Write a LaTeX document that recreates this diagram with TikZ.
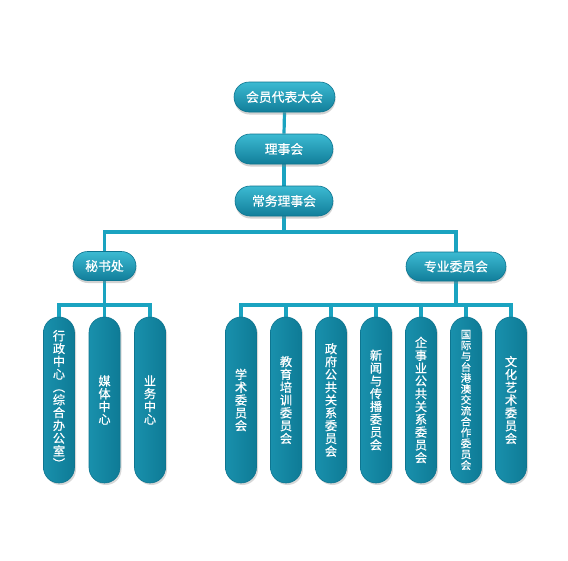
\documentclass[tikz,border=0pt]{standalone}
\usepackage{fontspec}
\usepackage{graphicx}
\setmainfont{Noto Sans CJK SC}[FakeBold=0.6,BoldFont={Noto Sans CJK SC}]
\usetikzlibrary{shadows,shapes.misc,backgrounds}
\definecolor{linec}{HTML}{1AA3C0}
\definecolor{boxtop}{HTML}{3CBAD2}
\definecolor{boxbot}{HTML}{117E9A}
\definecolor{boxedge}{HTML}{0E7590}
\definecolor{colL}{HTML}{1990AC}
\definecolor{colM}{HTML}{2EB3CD}
\definecolor{colR}{HTML}{0E7B96}
\newcommand{\vparen}[1]{\rotatebox[origin=c]{-90}{#1}}
\tikzset{
  hbox/.style={rounded rectangle, minimum width=98pt, minimum height=30pt, inner sep=0pt,
    top color=boxtop, bottom color=boxbot, draw=boxedge, line width=0.6pt, text=white,
    font=\fontsize{12.8}{14}\selectfont\bfseries,
    drop shadow={shadow xshift=0.5pt, shadow yshift=-2.5pt, opacity=0.35}},
  vbox/.style={rectangle, rounded corners=15.5pt, minimum width=31pt, minimum height=166pt,
    inner sep=0pt, left color=colL, middle color=colM, right color=colR, draw=boxedge,
    line width=0.6pt, text=white, align=center,
    font=\fontsize{12.2}{12.8}\selectfont\bfseries,
    drop shadow={shadow xshift=1.5pt, shadow yshift=-2pt, opacity=0.3}},
  conn/.style={draw=linec, line width=3.2pt}
}
\begin{document}
\begin{tikzpicture}[x=1pt,y=-1pt]
\useasboundingbox (0,0) rectangle (568,560);
% top chain
\node[hbox, minimum width=101pt] (hy) at (284.5,97) {会员代表大会};
\node[hbox] (lsh) at (284,149) {理事会};
\node[hbox] (cw) at (284,201) {常务理事会};
\node[hbox, minimum width=63pt, minimum height=29pt] (msc) at (104.5,266) {秘书处};
\node[hbox, minimum width=100pt, minimum height=29pt] (zy) at (456,266.5) {专业委员会};
% left columns
\node[vbox] (a1) at (59,400) {行\\政\\中\\心\\\vparen{（}\\综\\合\\办\\公\\室\\\vparen{）}};
\node[vbox] (a2) at (104.5,400) {媒\\体\\中\\心};
\node[vbox] (a3) at (150,400) {业\\务\\中\\心};
% right columns
\node[vbox] (b1) at (241,400) {学\\术\\委\\员\\会};
\node[vbox] (b2) at (286,400) {教\\育\\培\\训\\委\\员\\会};
\node[vbox] (b3) at (331,400) {政\\府\\公\\共\\关\\系\\委\\员\\会};
\node[vbox] (b4) at (376,400) {新\\闻\\与\\传\\播\\委\\员\\会};
\node[vbox] (b5) at (421,400) {企\\事\\业\\公\\共\\关\\系\\委\\员\\会};
\node[vbox, font=\fontsize{10.6}{10.9}\selectfont\bfseries] (b6) at (466,400) {国\\际\\与\\台\\港\\澳\\交\\流\\合\\作\\委\\员\\会};
\node[vbox] (b7) at (511,400) {文\\化\\艺\\术\\委\\员\\会};
% junctions
\coordinate (j1) at (284,232);
\coordinate (j2) at (104.5,305);
\coordinate (j3) at (456,305);
\begin{pgfonlayer}{background}
\fill[white] (0,0) rectangle (568,560);
\draw[conn] (hy.south) -- (lsh.north);
\draw[conn] (lsh.south) -- (cw.north);
\draw[conn] (cw.south) -- (j1);
\draw[conn] (msc.north) |- (j1) -| (zy.north);
\draw[conn] (msc.south) -- (a2.north);
\draw[conn] (a1.north) |- (j2) -| (a3.north);
\draw[conn] (zy.south) -- (j3);
\draw[conn] (b1.north) |- (j3) -| (b7.north);
\foreach \n in {b2,b3,b4,b5,b6} \draw[conn] (\n.north) -- (\n.north |- j3);
\end{pgfonlayer}
\end{tikzpicture}
\end{document}
